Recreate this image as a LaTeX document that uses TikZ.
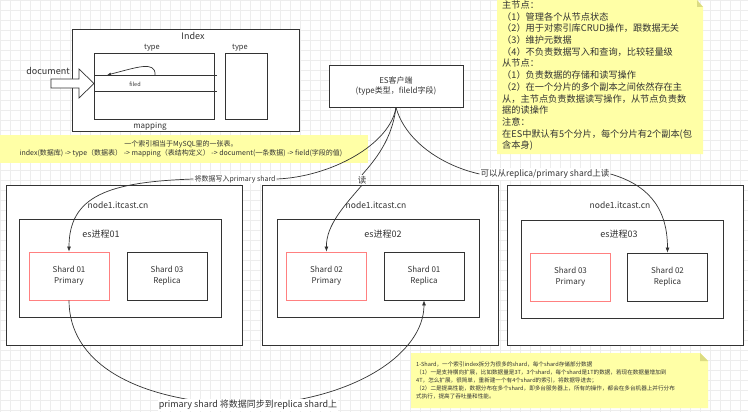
\documentclass[tikz,border=0pt]{standalone}
\usepackage{fontspec}
\setmainfont{Noto Sans CJK SC}
\usetikzlibrary{arrows.meta}
\definecolor{ink}{RGB}{51,51,51}
\definecolor{notey}{RGB}{255,255,166}
\definecolor{notefold}{RGB}{220,220,130}
\definecolor{redline}{RGB}{255,128,128}
\newcommand{\fs}[2]{\fontsize{#1}{#2}\selectfont}

\begin{document}
\begin{tikzpicture}[x=1pt,y=-1pt,>={Latex[length=5pt,width=4pt]},
  box/.style={draw=ink,fill=white,line width=0.8pt},
  shardbox/.style={box,minimum width=80,minimum height=48,align=center,font=\fs{8}{11},text=ink},
  primbox/.style={shardbox,draw=redline},
  nodebox/.style={box,minimum width=236,minimum height=160},
  esbox/.style={box,minimum width=202,minimum height=98},
  lbl/.style={fill=white,inner sep=1pt,text=ink},
  conn/.style={draw=ink,line width=0.7pt},
  txt/.style={text=ink,inner sep=0pt}]

\useasboundingbox (0,0) rectangle (748,412);
\fill[white] (0,0) rectangle (748,412);
\draw[black!7,step=10pt] (0,0) grid (748,412);

% index / type / mapping
\node[box,minimum width=227,minimum height=102] (idx) at (185.5,80) {};
\node[txt,font=\fs{9}{9}] (idxt) at (193,36) {Index};
\node[box,minimum width=120,minimum height=66] (ty1) at (154,86) {};
\node[box,minimum width=42,minimum height=66] (ty2) at (246,86) {};
\node[txt,font=\fs{7.5}{8}] (ty1t) at (152,48) {type};
\node[txt,font=\fs{7.5}{8}] (ty2t) at (240,48) {type};
\draw[conn] (94,75) -- (217,75);
\draw[conn] (94,91) -- (217,91);
\node[txt,font=\fs{5.5}{6}] (fld) at (135,84) {filed};
\node[txt,font=\fs{8}{8}] (mapt) at (150,126) {mapping};
\draw[conn,-{Latex[length=4pt,width=3pt]}] (155,75) .. controls (156,60) and (135,68) .. (107,75);
\draw[conn,fill=white] (51,79) -- (79,79) -- (79,69) -- (94,83.5) -- (79,98) -- (79,88) -- (51,88) -- cycle;
\node[txt,font=\fs{9}{9}] (doct) at (48,71) {document};

% notes
\fill[notey] (0,135) rectangle (368,163);
\node[txt,font=\fs{7}{9.5},align=center] (mysql) at (181,149) {一个索引相当于MySQL里的一张表。\\index(数据库) -> type（数据表） -> mapping（表结构定义） -> document(一条数据) -> field(字段的值)};

\fill[notey] (497,0) -- (697,0) -- (703,7) -- (703,154) -- (497,154) -- cycle;
\fill[notefold] (697,0) -- (697,7) -- (703,7) -- cycle;
\node[txt,anchor=north west,align=left,font=\fs{9.2}{11.7}] (master) at (502,0.5) {主节点：\\（1）管理各个从节点状态\\（2）用于对索引库CRUD操作，跟数据无关\\（3）维护元数据\\（4）不负责数据写入和查询，比较轻量级\\从节点：\\（1）负责数据的存储和读写操作\\（2）在一个分片的多个副本之间依然存在主\\从，主节点负责数据读写操作，从节点负责数\\据的读操作\\注意：\\在ES中默认有5个分片，每个分片有2个副本(包\\含本身)};

\fill[notey] (411,353) -- (700,353) -- (708,361) -- (708,408) -- (411,408) -- cycle;
\fill[notefold] (700,353) -- (700,361) -- (708,361) -- cycle;
\node[txt,anchor=north west,align=left,font=\fs{5.6}{7.8}] (shardnote) at (416,362) {1-Shard，一个索引index拆分为很多的shard，每个shard存储部分数据\\（1）一是支持横向扩展，比如数据量是3T，3个shard，每个shard是1T的数据，若现在数据量增加到\\4T，怎么扩展，很简单，重新建一个有4个shard的索引，将数据导进去；\\（2）二是提高性能，数据分布在多个shard，即多台服务器上，所有的操作，都会在多台机器上并行分布\\式执行，提高了吞吐量和性能。};

% client
\node[box,minimum width=134,minimum height=42,align=center,font=\fs{8}{10},text=ink] (es) at (396,86) {ES客户端\\(type类型，fileld字段)};

% nodes
\node[nodebox] (n1) at (124,265) {};
\node[nodebox] (n2) at (380.5,265) {};
\node[nodebox] (n3) at (625,265.5) {};
\node[txt,font=\fs{8.5}{9}] (n1t) at (118,205) {node1.itcast.cn};
\node[txt,font=\fs{8.5}{9}] (n2t) at (376,205) {node1.itcast.cn};
\node[txt,font=\fs{8.5}{9}] (n3t) at (620,205) {node1.itcast.cn};
\node[esbox] (es1) at (120.5,268) {};
\node[esbox] (es2) at (378,268) {};
\node[esbox] (es3) at (622,269) {};
\node[txt,font=\fs{9}{9}] (es1t) at (101,234) {es进程01};
\node[txt,font=\fs{9}{9}] (es2t) at (383,234) {es进程02};
\node[txt,font=\fs{9}{9}] (es3t) at (619,234) {es进程03};

% shards
\node[primbox] (s11p) at (69,276) {Shard 01\\Primary};
\node[shardbox] (s13r) at (167,276) {Shard 03\\Replica};
\node[primbox] (s22p) at (326.5,276) {Shard 02\\Primary};
\node[shardbox] (s21r) at (424,276) {Shard 01\\Replica};
\node[primbox] (s33p) at (570.5,277) {Shard 03\\Primary};
\node[shardbox] (s32r) at (667.5,277) {Shard 02\\Replica};

% connectors
\node[lbl,font=\fs{7}{7}] (lwrite) at (235,179) {将数据写入primary shard};
\draw[conn] (es.south) .. controls (390,145) and (330,177) .. (lwrite.east);
\draw[conn,->] (lwrite.west) .. controls (110,182) and (69,195) .. (s11p.north);

\node[lbl,font=\fs{8.5}{9}] (lread) at (362,180) {读};
\draw[conn] (es.south) .. controls (392,140) and (375,160) .. (lread.north);
\draw[conn,->] (lread.south) .. controls (345,205) and (326,225) .. (s22p.north);

\node[lbl,font=\fs{8.5}{9}] (lrep) at (545,174) {可以从replica/primary shard上读};
\draw[conn] (es.south) .. controls (405,140) and (440,165) .. (lrep.west);
\draw[conn,->] (lrep.east) .. controls (645,184) and (667.5,205) .. (s32r.north);

\coordinate (sync) at (248,405);
\draw[conn] (s11p.south) .. controls (69,360) and (130,402) .. (sync);
\draw[conn,->] (sync) .. controls (350,402) and (424,355) .. (s21r.south);
\node[lbl,font=\fs{9}{9}] (lsync) at (sync) {primary shard 将数据同步到replica shard上};
\end{tikzpicture}
\end{document}
